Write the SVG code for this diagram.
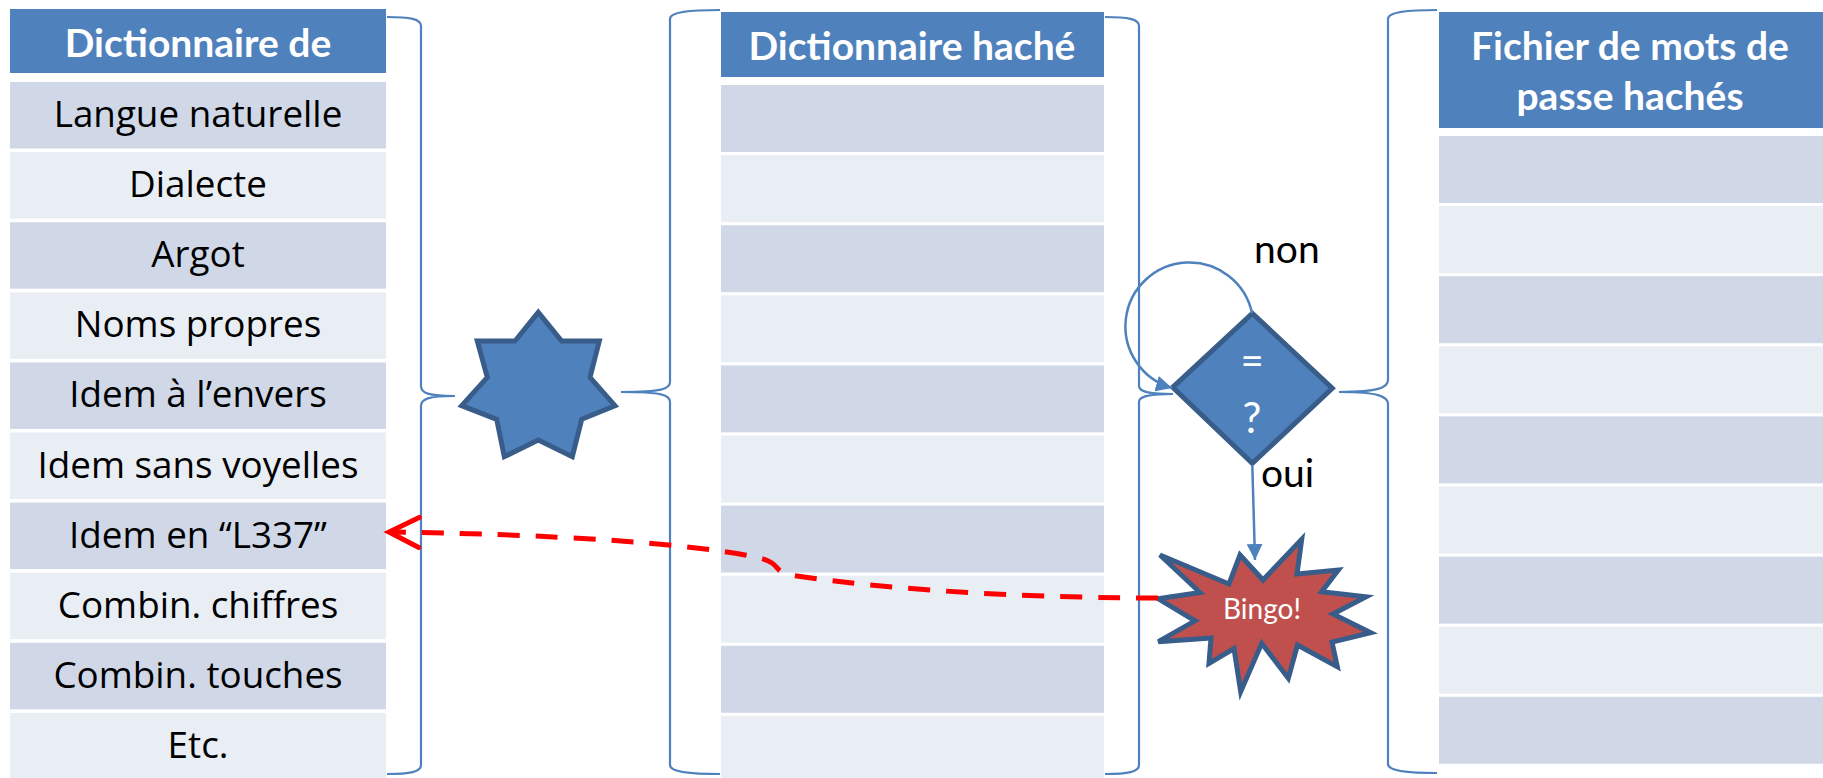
<svg xmlns="http://www.w3.org/2000/svg" width="1823" height="778" viewBox="0 0 1823 778">
<defs>
<style>
.hdr{fill:#4F81BD}
.dk{fill:#D0D8E8}
.lt{fill:#E9EDF4}
.ht{font-family:Lato,"Open Sans",sans-serif;font-weight:bold;font-size:39px;fill:#FFFFFF;text-anchor:middle}
.rt{font-family:"Open Sans",Lato,sans-serif;font-size:36.8px;fill:#000000;text-anchor:middle}
.lbl{font-family:Lato,"Open Sans",sans-serif;font-size:39px;fill:#000000}
.brace{fill:none;stroke:#4F81BD;stroke-width:2.2}
.shape{fill:#4F81BD;stroke:#385D8A;stroke-width:5;stroke-linejoin:miter}
.blue{fill:none;stroke:#4F81BD;stroke-width:2.5}
.red{fill:none;stroke:#FF0000;stroke-width:5;stroke-dasharray:22 16}
</style>
<marker id="ah" markerUnits="userSpaceOnUse" markerWidth="16" markerHeight="16" viewBox="0 0 10 10" refX="10" refY="5" orient="auto">
<path d="M0,0 L10,5 L0,10 z" fill="#4F81BD"/>
</marker>
<marker id="chev" markerUnits="userSpaceOnUse" markerWidth="40" markerHeight="40" refX="30" refY="15" orient="auto" overflow="visible">
<path d="M0,0 L30,15 L0,30" fill="none" stroke="#FF0000" stroke-width="5" stroke-linecap="round" stroke-linejoin="miter"/>
</marker>
</defs>
<rect width="1823" height="778" fill="#FFFFFF"/>

<g id="table-left">
<rect class="hdr" x="10" y="9" width="376" height="64"/>
<text class="ht" x="198" y="57">Dictionnaire de</text>
<rect class="dk" x="10" y="82" width="376" height="66.5"/>
<rect class="lt" x="10" y="152.1" width="376" height="66.5"/>
<rect class="dk" x="10" y="222.2" width="376" height="66.5"/>
<rect class="lt" x="10" y="292.3" width="376" height="66.5"/>
<rect class="dk" x="10" y="362.4" width="376" height="66.5"/>
<rect class="lt" x="10" y="432.5" width="376" height="66.5"/>
<rect class="dk" x="10" y="502.6" width="376" height="66.5"/>
<rect class="lt" x="10" y="572.7" width="376" height="66.5"/>
<rect class="dk" x="10" y="642.8" width="376" height="66.5"/>
<rect class="lt" x="10" y="712.9" width="376" height="66.5"/>
<text class="rt" x="198" y="127">Langue naturelle</text>
<text class="rt" x="198" y="197.1">Dialecte</text>
<text class="rt" x="198" y="267.2">Argot</text>
<text class="rt" x="198" y="337.3">Noms propres</text>
<text class="rt" x="198" y="407.4">Idem à l’envers</text>
<text class="rt" x="198" y="477.5">Idem sans voyelles</text>
<text class="rt" x="198" y="547.6">Idem en “L337”</text>
<text class="rt" x="198" y="617.7">Combin. chiffres</text>
<text class="rt" x="198" y="687.8">Combin. touches</text>
<text class="rt" x="198" y="757.9">Etc.</text>
</g>

<g id="table-middle">
<rect class="hdr" x="721" y="12" width="383" height="65"/>
<text class="ht" x="912" y="60">Dictionnaire haché</text>
<rect class="dk" x="721" y="85" width="383" height="67"/>
<rect class="lt" x="721" y="155.1" width="383" height="67"/>
<rect class="dk" x="721" y="225.2" width="383" height="67"/>
<rect class="lt" x="721" y="295.3" width="383" height="67"/>
<rect class="dk" x="721" y="365.4" width="383" height="67"/>
<rect class="lt" x="721" y="435.5" width="383" height="67"/>
<rect class="dk" x="721" y="505.6" width="383" height="67"/>
<rect class="lt" x="721" y="575.7" width="383" height="67"/>
<rect class="dk" x="721" y="645.8" width="383" height="67"/>
<rect class="lt" x="721" y="715.9" width="383" height="67"/>
</g>

<g id="table-right">
<rect class="hdr" x="1439" y="12" width="384" height="116"/>
<text class="ht" x="1630" y="60">Fichier de mots de</text>
<text class="ht" x="1630" y="110">passe hachés</text>
<rect class="dk" x="1439" y="136" width="384" height="67"/>
<rect class="lt" x="1439" y="206.1" width="384" height="67"/>
<rect class="dk" x="1439" y="276.2" width="384" height="67"/>
<rect class="lt" x="1439" y="346.3" width="384" height="67"/>
<rect class="dk" x="1439" y="416.4" width="384" height="67"/>
<rect class="lt" x="1439" y="486.5" width="384" height="67"/>
<rect class="dk" x="1439" y="556.6" width="384" height="67"/>
<rect class="lt" x="1439" y="626.7" width="384" height="67"/>
<rect class="dk" x="1439" y="696.8" width="384" height="67"/>
</g>

<g id="brace-1">
<path class="brace" d="M387,17 C410,17 421,19 421,26 L421,386 C421,393 428,396 455,396 C428,396 421,399 421,406 L421,765 C421,772 410,774 387,774"/>
</g>
<g id="brace-2">
<path class="brace" d="M720,10 C690,10 670,12 670,19 L670,382 C670,389 662,392 621,392 C662,392 670,395 670,402 L670,765 C670,772 690,774 720,774"/>
</g>
<g id="brace-3">
<path class="brace" d="M1105,17 C1128,17 1139,19 1139,26 L1139,386 C1139,391 1146,394 1173,394 C1146,394 1139,397 1139,402 L1139,765 C1139,772 1128,774 1105,774"/>
</g>
<g id="brace-4">
<path class="brace" d="M1437,10 C1408,10 1388,12 1388,19 L1388,380 C1388,387 1380,392 1339,392 C1380,392 1388,397 1388,404 L1388,764 C1388,771 1408,773 1437,773"/>
</g>

<g id="star">
<polygon class="shape" points="538.3,312.3 561.7,341 599.3,341 590,377.3 615,405.7 581.7,419.3 572.3,456.7 538.3,440 504.3,456.7 496.7,419.3 461.7,405.7 487.3,377.3 477.3,341 515,341"/>
</g>

<g id="decision">
<polygon class="shape" points="1252.3,313.3 1332.3,388.3 1252.3,463.3 1172.7,387.3"/>
<text x="1252" y="375" font-family="Lato,'Open Sans',sans-serif" font-size="40" fill="#FFFFFF" text-anchor="middle">=</text>
<text x="1252" y="433" font-family="Lato,'Open Sans',sans-serif" font-size="42" fill="#FFFFFF" text-anchor="middle">?</text>
</g>

<g id="bingo">
<polygon fill="#C0504D" stroke="#385D8A" stroke-width="5" stroke-linejoin="miter" points="1160,555 1229,584 1240,555 1263,580 1301.7,539.3 1297,574 1338.3,570 1321.7,591.7 1366,596.7 1333,614 1370.7,632.7 1332,642 1337.3,666.7 1297.5,645 1288.3,678.3 1261.7,643.3 1240.7,691.7 1234,648.5 1209,663.3 1211,638 1158.3,641.7 1195,620.8 1158.3,598.8 1200,592.5"/>
<text x="1262" y="619" font-family="Lato,'Open Sans',sans-serif" font-size="28" fill="#FFFFFF" text-anchor="middle">Bingo!</text>
</g>

<g id="connectors">
<path class="blue" d="M1252,313 A64,64 0 1 0 1172,388" marker-end="url(#ah)"/>
<path class="blue" d="M1252.3,465 L1255,560" marker-end="url(#ah)"/>
<path class="red" d="M1158,598 C1050,598 900,592 790,575 C778,573 778,567 772,563 C766,559 760,558 745,555 C700,547 600,535 389,532" marker-end="url(#chev)"/>
</g>

<g id="labels">
<text class="lbl" x="1254" y="263">non</text>
<text class="lbl" x="1261" y="487">oui</text>
</g>
</svg>
